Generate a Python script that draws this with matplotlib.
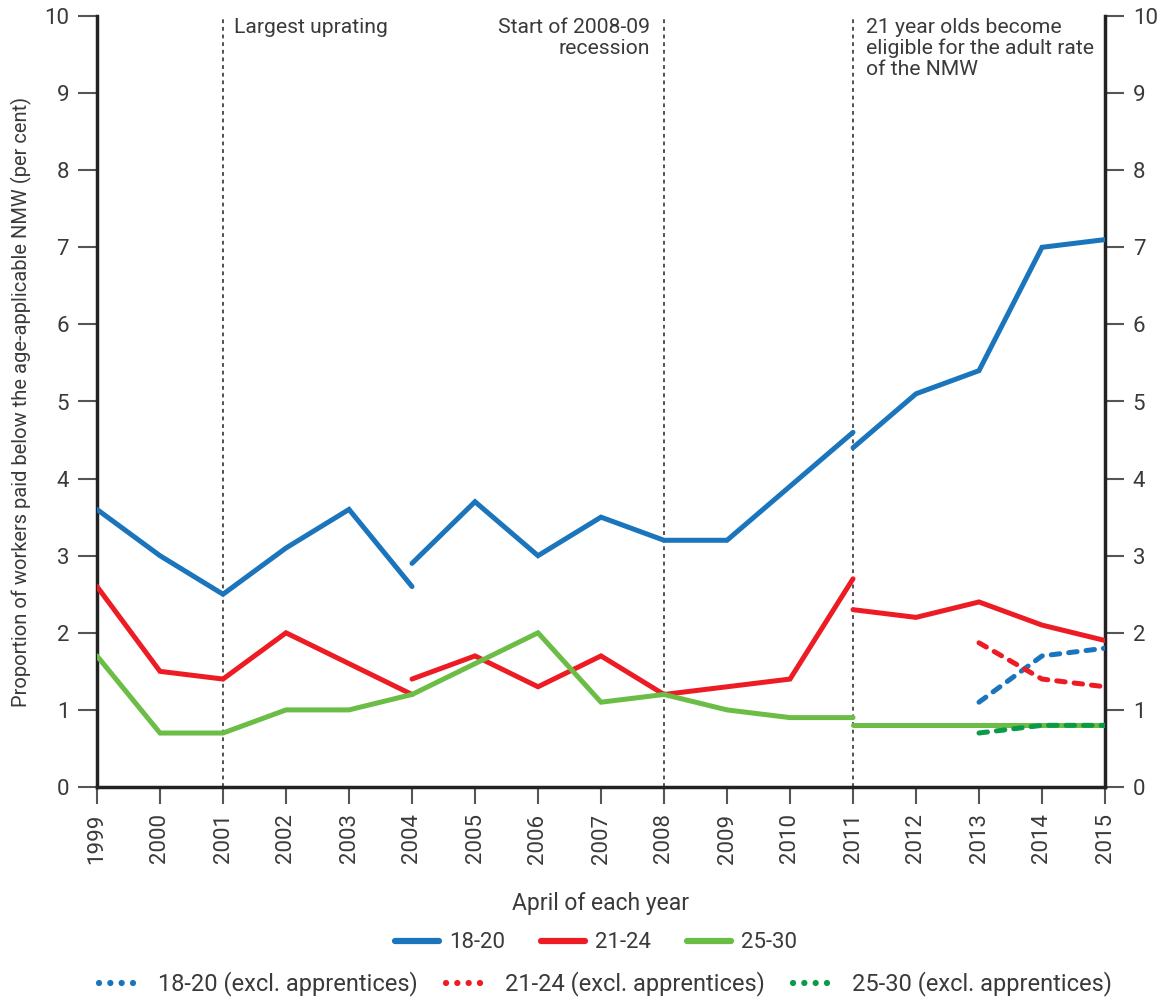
import matplotlib
matplotlib.use("Agg")
import matplotlib.pyplot as plt
from matplotlib.lines import Line2D

plt.rcParams['font.family'] = ['Roboto', 'DejaVu Sans']
plt.rcParams['font.weight'] = 'normal'

years = [str(y) for y in range(1999, 2016)]

# 18-20 segments
y1820_a_years = years[0:6]
y1820_a = [3.6, 3.0, 2.5, 3.1, 3.6, 2.6]
y1820_b_years = years[5:13]
y1820_b = [2.9, 3.7, 3.0, 3.5, 3.2, 3.2, 3.9, 4.6]
y1820_c_years = years[12:17]
y1820_c = [4.4, 5.1, 5.4, 7.0, 7.1]

# 21-24 segments
y2124_a_years = years[0:6]
y2124_a = [2.6, 1.5, 1.4, 2.0, 1.6, 1.2]
y2124_b_years = years[5:13]
y2124_b = [1.4, 1.7, 1.3, 1.7, 1.2, 1.3, 1.4, 2.7]
y2124_c_years = years[12:17]
y2124_c = [2.3, 2.2, 2.4, 2.1, 1.9]

# 25-30 segments
y2530_a_years = years[0:13]
y2530_a = [1.7, 0.7, 0.7, 1.0, 1.0, 1.2, 1.6, 2.0, 1.1, 1.2, 1.0, 0.9, 0.9]
y2530_b_years = years[12:17]
y2530_b = [0.8, 0.8, 0.8, 0.8, 0.8]

# excluding apprentices
excl_years = years[14:17]
x1820 = [1.1, 1.7, 1.8]
x2124 = [1.87, 1.4, 1.3]
x2530 = [0.7, 0.8, 0.8]

events = ['2001', '2008', '2011']

c_blue = '#1a75bc'
c_red = '#ed1c24'
c_green = '#6cbd45'
c_dgreen = '#0a9a48'
txt = '#3a3a3a'

fig = plt.figure(figsize=(11.73, 10.01), dpi=100)
ax = fig.add_axes([97/1173, 1-787/1001, (1105-97)/1173, (787-16)/1001])

idx = {y: i for i, y in enumerate(years)}
def xs(lst):
    return [idx[y] for y in lst]

lw = 3.6
for yl, vals, c in [(y1820_a_years, y1820_a, c_blue), (y1820_b_years, y1820_b, c_blue), (y1820_c_years, y1820_c, c_blue),
                    (y2124_a_years, y2124_a, c_red), (y2124_b_years, y2124_b, c_red), (y2124_c_years, y2124_c, c_red),
                    (y2530_a_years, y2530_a, c_green), (y2530_b_years, y2530_b, c_green)]:
    ax.plot(xs(yl), vals, color=c, lw=lw, solid_capstyle='round', solid_joinstyle='miter', zorder=3)

for vals, c in [(x1820, c_blue), (x2124, c_red), (x2530, c_dgreen)]:
    ax.plot(xs(excl_years), vals, color=c, lw=lw, linestyle=(0, (1.7, 1.8)), dash_capstyle='round', zorder=4)

for e in events:
    ax.axvline(idx[e], color='#222222', lw=1.1, linestyle=(0, (2.5, 2.5)), zorder=1)

ax.set_xlim(0, 16)
ax.set_ylim(0, 10)
ax.set_xticks(range(len(years)))
ax.set_xticklabels(years, rotation=90, fontsize=16, color=txt)
ax.set_yticks(range(0, 11))
ax.tick_params(axis='y', labelsize=16, labelcolor=txt, length=14, width=1.5, color='#555555',
               labelright=True, right=True, pad=6)
ax.tick_params(axis='x', length=12, width=1.5, color='#555555', pad=7)
for s in ['left', 'bottom', 'right']:
    ax.spines[s].set_linewidth(2.5)
    ax.spines[s].set_color('#222222')
ax.spines['top'].set_visible(False)

ax.set_ylabel('Proportion of workers paid below the age-applicable NMW (per cent)', fontsize=14.5, color=txt, labelpad=9)
ax.set_xlabel('April of each year', fontsize=16.5, color=txt, labelpad=20)

ann = 15.2
ax.text(idx['2001'] + 0.18, 9.97, 'Largest uprating', fontsize=ann, color=txt, ha='left', va='top')
ax.text(idx['2008'] - 0.22, 9.97, 'Start of 2008-09\nrecession', fontsize=ann, color=txt, ha='right', va='top',
        multialignment='right', linespacing=1.1)
ax.text(idx['2011'] + 0.2, 9.97, '21 year olds become\neligible for the adult rate\nof the NMW', fontsize=ann, color=txt,
        ha='left', va='top', linespacing=1.1)

h1 = [Line2D([], [], color=c, lw=4.5, solid_capstyle='round') for c in (c_blue, c_red, c_green)]
fig.legend(h1, ['18-20', '21-24', '25-30'], loc='center', bbox_to_anchor=(0.508, 1-943/1001), ncol=3,
           frameon=False, fontsize=16, handlelength=2.0, columnspacing=1.6, handletextpad=0.45, labelcolor=txt)
h2 = [Line2D([], [], color=c, lw=4.5, linestyle=(0, (0.01, 1.8)), dash_capstyle='round') for c in (c_blue, c_red, c_dgreen)]
fig.legend(h2, ['18-20 (excl. apprentices)', '21-24 (excl. apprentices)', '25-30 (excl. apprentices)'],
           loc='center', bbox_to_anchor=(0.516, 1-984/1001), ncol=3, frameon=False, fontsize=17,
           handlelength=1.8, columnspacing=1.2, handletextpad=0.7, labelcolor=txt)

fig.savefig('out.png', dpi=100)
